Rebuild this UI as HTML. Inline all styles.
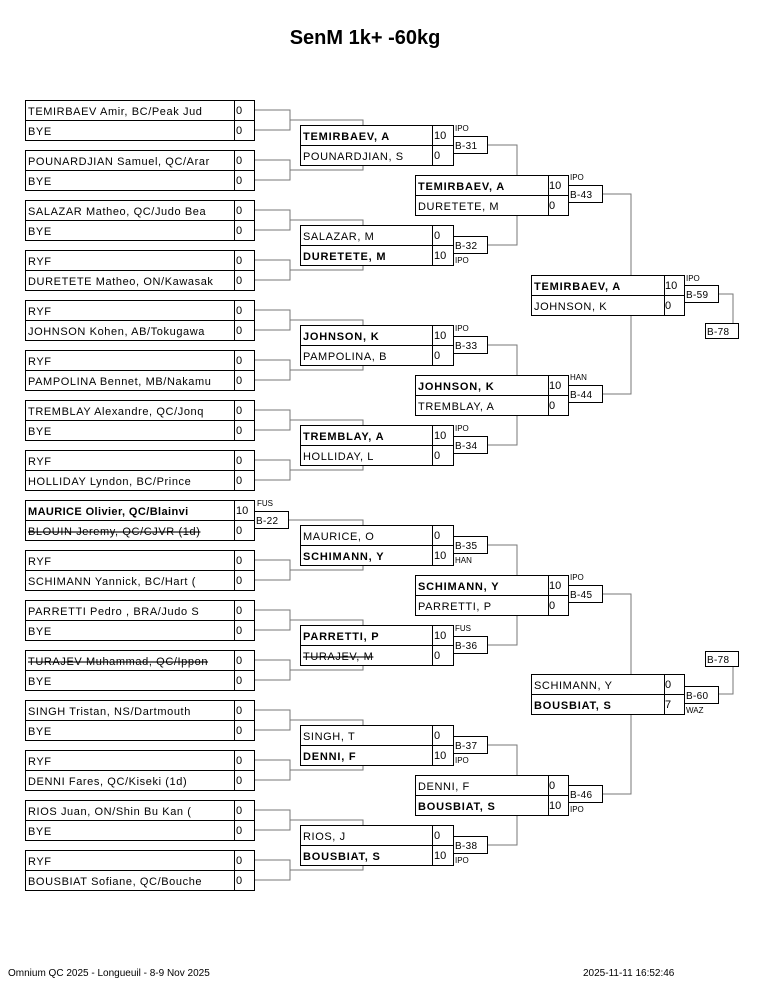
<!DOCTYPE html>
<html><head><meta charset="utf-8"><style>
html,body{margin:0;padding:0;background:#fff;}
svg{display:block;}
text{font-family:"Liberation Sans",Arial,sans-serif;}
.n{font-size:11px;letter-spacing:0.6px;}
.b{font-size:11px;font-weight:bold;letter-spacing:0.8px;}
.s{font-size:11px;}
.l{font-size:10px;letter-spacing:0.3px;}
.w{font-size:8px;}
</style></head><body>
<svg width="765" height="990" xmlns="http://www.w3.org/2000/svg">
<text x="365" y="44" text-anchor="middle" style="font-size:20px;font-weight:bold">SenM 1k+ -60kg</text>

<g stroke="#777" stroke-width="1" fill="none">
<path d="M254 110H290V130H254 M290 120H363V125"/>
<path d="M254 160H290V180H254 M290 170H363V165"/>
<path d="M254 210H290V230H254 M290 220H363V225"/>
<path d="M254 260H290V280H254 M290 270H363V265"/>
<path d="M254 310H290V330H254 M290 320H363V325"/>
<path d="M254 360H290V380H254 M290 370H363V365"/>
<path d="M254 410H290V430H254 M290 420H363V425"/>
<path d="M254 460H290V480H254 M290 470H363V465"/>
<path d="M289 520H363V525"/>
<path d="M254 560H290V580H254 M290 570H363V565"/>
<path d="M254 610H290V630H254 M290 620H363V625"/>
<path d="M254 660H290V680H254 M290 670H363V665"/>
<path d="M254 710H290V730H254 M290 720H363V725"/>
<path d="M254 760H290V780H254 M290 770H363V765"/>
<path d="M254 810H290V830H254 M290 820H363V825"/>
<path d="M254 860H290V880H254 M290 870H363V865"/>
<path d="M488 145H517V175 M488 245H517V215"/>
<path d="M488 345H517V375 M488 445H517V415"/>
<path d="M488 545H517V575 M488 645H517V615"/>
<path d="M488 745H517V775 M488 845H517V815"/>
<path d="M602 194H631V275 M602 394H631V315"/>
<path d="M602 594H631V675 M602 794H631V715"/>
<path d="M718 294H733V323"/>
<path d="M718 694H733V666"/>
</g>

<g stroke="#000" stroke-width="1" fill="none">
<path d="M25.5 100.5h229v40h-229z M25.5 120.5h229 M234.5 100.5v40"/>
<path d="M25.5 150.5h229v40h-229z M25.5 170.5h229 M234.5 150.5v40"/>
<path d="M25.5 200.5h229v40h-229z M25.5 220.5h229 M234.5 200.5v40"/>
<path d="M25.5 250.5h229v40h-229z M25.5 270.5h229 M234.5 250.5v40"/>
<path d="M25.5 300.5h229v40h-229z M25.5 320.5h229 M234.5 300.5v40"/>
<path d="M25.5 350.5h229v40h-229z M25.5 370.5h229 M234.5 350.5v40"/>
<path d="M25.5 400.5h229v40h-229z M25.5 420.5h229 M234.5 400.5v40"/>
<path d="M25.5 450.5h229v40h-229z M25.5 470.5h229 M234.5 450.5v40"/>
<path d="M25.5 500.5h229v40h-229z M25.5 520.5h229 M234.5 500.5v40"/>
<path d="M25.5 550.5h229v40h-229z M25.5 570.5h229 M234.5 550.5v40"/>
<path d="M25.5 600.5h229v40h-229z M25.5 620.5h229 M234.5 600.5v40"/>
<path d="M25.5 650.5h229v40h-229z M25.5 670.5h229 M234.5 650.5v40"/>
<path d="M25.5 700.5h229v40h-229z M25.5 720.5h229 M234.5 700.5v40"/>
<path d="M25.5 750.5h229v40h-229z M25.5 770.5h229 M234.5 750.5v40"/>
<path d="M25.5 800.5h229v40h-229z M25.5 820.5h229 M234.5 800.5v40"/>
<path d="M25.5 850.5h229v40h-229z M25.5 870.5h229 M234.5 850.5v40"/>
<path d="M254.5 511.5h34v17h-34z"/>
<path d="M300.5 125.5h153v40h-153z M300.5 145.5h153 M432.5 125.5v40 M453.5 136.5h34v17h-34z"/>
<path d="M300.5 225.5h153v40h-153z M300.5 245.5h153 M432.5 225.5v40 M453.5 236.5h34v17h-34z"/>
<path d="M300.5 325.5h153v40h-153z M300.5 345.5h153 M432.5 325.5v40 M453.5 336.5h34v17h-34z"/>
<path d="M300.5 425.5h153v40h-153z M300.5 445.5h153 M432.5 425.5v40 M453.5 436.5h34v17h-34z"/>
<path d="M300.5 525.5h153v40h-153z M300.5 545.5h153 M432.5 525.5v40 M453.5 536.5h34v17h-34z"/>
<path d="M300.5 625.5h153v40h-153z M300.5 645.5h153 M432.5 625.5v40 M453.5 636.5h34v17h-34z"/>
<path d="M300.5 725.5h153v40h-153z M300.5 745.5h153 M432.5 725.5v40 M453.5 736.5h34v17h-34z"/>
<path d="M300.5 825.5h153v40h-153z M300.5 845.5h153 M432.5 825.5v40 M453.5 836.5h34v17h-34z"/>
<path d="M415.5 175.5h153v40h-153z M415.5 195.5h153 M548.5 175.5v40 M568.5 185.5h34v17h-34z"/>
<path d="M415.5 375.5h153v40h-153z M415.5 395.5h153 M548.5 375.5v40 M568.5 385.5h34v17h-34z"/>
<path d="M415.5 575.5h153v40h-153z M415.5 595.5h153 M548.5 575.5v40 M568.5 585.5h34v17h-34z"/>
<path d="M415.5 775.5h153v40h-153z M415.5 795.5h153 M548.5 775.5v40 M568.5 785.5h34v17h-34z"/>
<path d="M531.5 275.5h153v40h-153z M531.5 295.5h153 M664.5 275.5v40 M684.5 285.5h34v17h-34z"/>
<path d="M531.5 674.5h153v40h-153z M531.5 694.5h153 M664.5 674.5v40 M684.5 686.5h34v17h-34z"/>
<path d="M705.5 323.5h33v15h-33z"/>
<path d="M705.5 651.5h33v15h-33z"/>
</g>

<g class="n">
<text x="28" y="115">TEMIRBAEV Amir, BC/Peak Jud</text><text x="28" y="135">BYE</text>
<text x="28" y="165">POUNARDJIAN Samuel, QC/Arar</text><text x="28" y="185">BYE</text>
<text x="28" y="215">SALAZAR Matheo, QC/Judo Bea</text><text x="28" y="235">BYE</text>
<text x="28" y="265">RYF</text><text x="28" y="285">DURETETE Matheo, ON/Kawasak</text>
<text x="28" y="315">RYF</text><text x="28" y="335">JOHNSON Kohen, AB/Tokugawa</text>
<text x="28" y="365">RYF</text><text x="28" y="385">PAMPOLINA Bennet, MB/Nakamu</text>
<text x="28" y="415">TREMBLAY Alexandre, QC/Jonq</text><text x="28" y="435">BYE</text>
<text x="28" y="465">RYF</text><text x="28" y="485">HOLLIDAY Lyndon, BC/Prince</text>
<text x="28" y="515" class="b" style="letter-spacing:0.4px">MAURICE Olivier, QC/Blainvi</text><text x="28" y="535" text-decoration="line-through">BLOUIN Jeremy, QC/CJVR (1d)</text>
<text x="28" y="565">RYF</text><text x="28" y="585">SCHIMANN Yannick, BC/Hart (</text>
<text x="28" y="615">PARRETTI Pedro , BRA/Judo S</text><text x="28" y="635">BYE</text>
<text x="28" y="665" text-decoration="line-through">TURAJEV Muhammad, QC/Ippon</text><text x="28" y="685">BYE</text>
<text x="28" y="715">SINGH Tristan, NS/Dartmouth</text><text x="28" y="735">BYE</text>
<text x="28" y="765">RYF</text><text x="28" y="785">DENNI Fares, QC/Kiseki (1d)</text>
<text x="28" y="815">RIOS Juan, ON/Shin Bu Kan (</text><text x="28" y="835">BYE</text>
<text x="28" y="865">RYF</text><text x="28" y="885">BOUSBIAT Sofiane, QC/Bouche</text>
</g>
<g class="s">
<text x="236" y="114">0</text><text x="236" y="134">0</text>
<text x="236" y="164">0</text><text x="236" y="184">0</text>
<text x="236" y="214">0</text><text x="236" y="234">0</text>
<text x="236" y="264">0</text><text x="236" y="284">0</text>
<text x="236" y="314">0</text><text x="236" y="334">0</text>
<text x="236" y="364">0</text><text x="236" y="384">0</text>
<text x="236" y="414">0</text><text x="236" y="434">0</text>
<text x="236" y="464">0</text><text x="236" y="484">0</text>
<text x="236" y="514">10</text><text x="236" y="534">0</text>
<text x="236" y="564">0</text><text x="236" y="584">0</text>
<text x="236" y="614">0</text><text x="236" y="634">0</text>
<text x="236" y="664">0</text><text x="236" y="684">0</text>
<text x="236" y="714">0</text><text x="236" y="734">0</text>
<text x="236" y="764">0</text><text x="236" y="784">0</text>
<text x="236" y="814">0</text><text x="236" y="834">0</text>
<text x="236" y="864">0</text><text x="236" y="884">0</text>
</g>
<text class="l" x="256" y="524">B-22</text><text class="w" x="257" y="506">FUS</text>

<text class="b" x="303" y="140">TEMIRBAEV, A</text><text class="n" x="303" y="160">POUNARDJIAN, S</text>
<text class="s" x="434" y="139">10</text><text class="s" x="434" y="159">0</text>
<text class="l" x="455" y="149">B-31</text><text class="w" x="455" y="131">IPO</text>

<text class="n" x="303" y="240">SALAZAR, M</text><text class="b" x="303" y="260">DURETETE, M</text>
<text class="s" x="434" y="239">0</text><text class="s" x="434" y="259">10</text>
<text class="l" x="455" y="249">B-32</text><text class="w" x="455" y="263">IPO</text>

<text class="b" x="303" y="340">JOHNSON, K</text><text class="n" x="303" y="360">PAMPOLINA, B</text>
<text class="s" x="434" y="339">10</text><text class="s" x="434" y="359">0</text>
<text class="l" x="455" y="349">B-33</text><text class="w" x="455" y="331">IPO</text>

<text class="b" x="303" y="440">TREMBLAY, A</text><text class="n" x="303" y="460">HOLLIDAY, L</text>
<text class="s" x="434" y="439">10</text><text class="s" x="434" y="459">0</text>
<text class="l" x="455" y="449">B-34</text><text class="w" x="455" y="431">IPO</text>

<text class="n" x="303" y="540">MAURICE, O</text><text class="b" x="303" y="560">SCHIMANN, Y</text>
<text class="s" x="434" y="539">0</text><text class="s" x="434" y="559">10</text>
<text class="l" x="455" y="549">B-35</text><text class="w" x="455" y="563">HAN</text>

<text class="b" x="303" y="640">PARRETTI, P</text><text class="n" x="303" y="660" text-decoration="line-through">TURAJEV, M</text>
<text class="s" x="434" y="639">10</text><text class="s" x="434" y="659">0</text>
<text class="l" x="455" y="649">B-36</text><text class="w" x="455" y="631">FUS</text>

<text class="n" x="303" y="740">SINGH, T</text><text class="b" x="303" y="760">DENNI, F</text>
<text class="s" x="434" y="739">0</text><text class="s" x="434" y="759">10</text>
<text class="l" x="455" y="749">B-37</text><text class="w" x="455" y="763">IPO</text>

<text class="n" x="303" y="840">RIOS, J</text><text class="b" x="303" y="860">BOUSBIAT, S</text>
<text class="s" x="434" y="839">0</text><text class="s" x="434" y="859">10</text>
<text class="l" x="455" y="849">B-38</text><text class="w" x="455" y="863">IPO</text>

<text class="b" x="418" y="190">TEMIRBAEV, A</text><text class="n" x="418" y="210">DURETETE, M</text>
<text class="s" x="549" y="189">10</text><text class="s" x="549" y="209">0</text>
<text class="l" x="570" y="198">B-43</text><text class="w" x="570" y="180">IPO</text>

<text class="b" x="418" y="390">JOHNSON, K</text><text class="n" x="418" y="410">TREMBLAY, A</text>
<text class="s" x="549" y="389">10</text><text class="s" x="549" y="409">0</text>
<text class="l" x="570" y="398">B-44</text><text class="w" x="570" y="380">HAN</text>

<text class="b" x="418" y="590">SCHIMANN, Y</text><text class="n" x="418" y="610">PARRETTI, P</text>
<text class="s" x="549" y="589">10</text><text class="s" x="549" y="609">0</text>
<text class="l" x="570" y="598">B-45</text><text class="w" x="570" y="580">IPO</text>

<text class="n" x="418" y="790">DENNI, F</text><text class="b" x="418" y="810">BOUSBIAT, S</text>
<text class="s" x="549" y="789">0</text><text class="s" x="549" y="809">10</text>
<text class="l" x="570" y="798">B-46</text><text class="w" x="570" y="812">IPO</text>

<text class="b" x="534" y="290">TEMIRBAEV, A</text><text class="n" x="534" y="310">JOHNSON, K</text>
<text class="s" x="665" y="289">10</text><text class="s" x="665" y="309">0</text>
<text class="l" x="686" y="298">B-59</text><text class="w" x="686" y="281">IPO</text>
<text class="l" x="707" y="335">B-78</text>

<text class="n" x="534" y="689">SCHIMANN, Y</text><text class="b" x="534" y="709">BOUSBIAT, S</text>
<text class="s" x="665" y="688">0</text><text class="s" x="665" y="708">7</text>
<text class="l" x="686" y="699">B-60</text><text class="w" x="686" y="713">WAZ</text>
<text class="l" x="707" y="663">B-78</text>

<text x="8" y="976" style="font-size:10px">Omnium QC 2025 - Longueuil - 8-9 Nov 2025</text>
<text x="583" y="976" style="font-size:10px">2025-11-11 16:52:46</text>
</svg>
</body></html>
